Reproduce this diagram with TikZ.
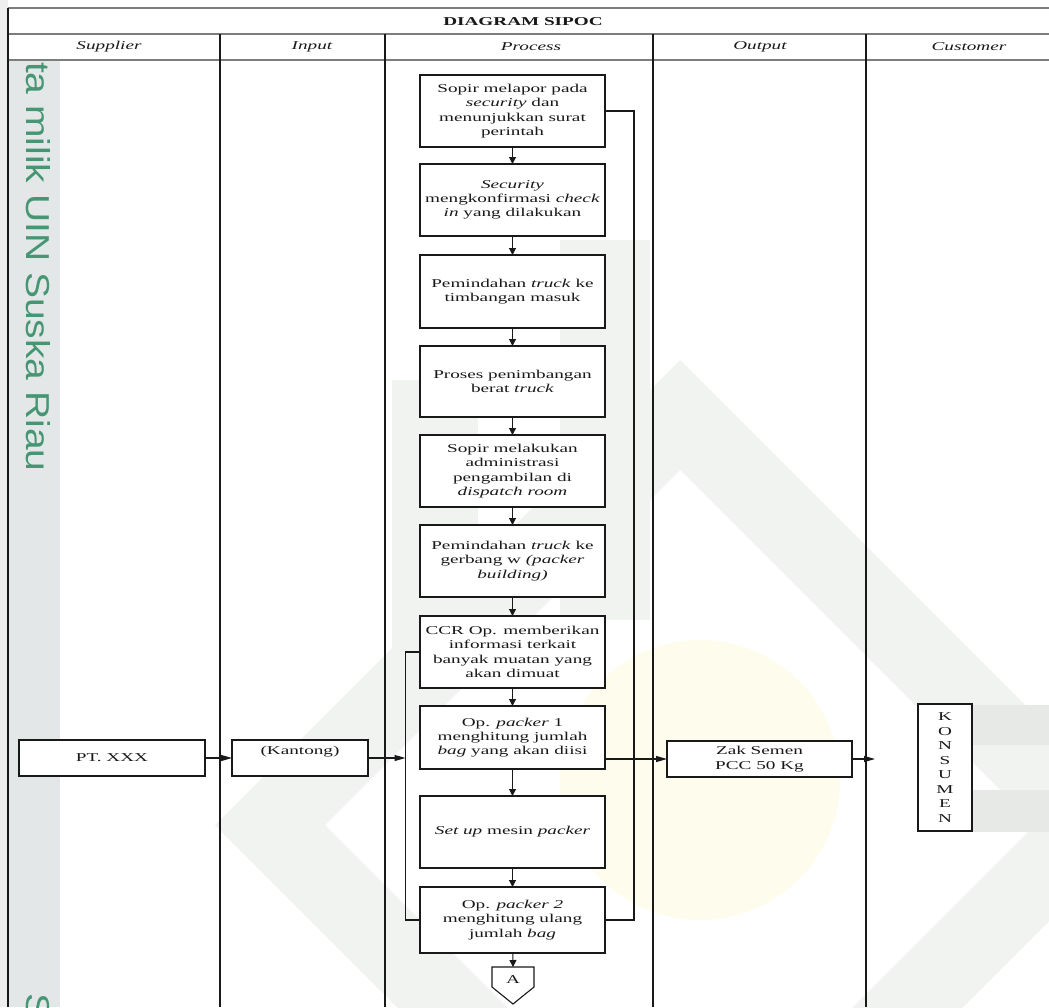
\documentclass[tikz,border=0pt]{standalone}
\usepackage{fontspec}
\setmainfont{Liberation Serif}[FakeStretch=1.6]
\setsansfont{Liberation Sans}
\usetikzlibrary{arrows.meta}
\definecolor{ink}{RGB}{25,25,25}
\definecolor{rulegray}{RGB}{125,125,125}
\definecolor{stripgray}{RGB}{228,231,231}
\definecolor{edgegray}{RGB}{238,238,238}
\definecolor{wmgreen}{RGB}{70,150,115}
\definecolor{wmgray}{RGB}{241,243,241}
\definecolor{wmbar}{RGB}{230,233,230}
\definecolor{wmcream}{RGB}{254,252,237}
\begin{document}
\begin{tikzpicture}[x=1pt,y=-1pt,
  every node/.style={inner sep=0pt,outer sep=0pt},
  txt/.style={font=\fontsize{12}{14.3}\selectfont,align=center,text=ink},
  proc/.style={txt,draw=ink,line width=1.1pt,fill=white,minimum width=185pt},
  side/.style={txt,draw=ink,line width=1.1pt,fill=white,minimum height=36pt},
  head/.style={font=\itshape\fontsize{12}{13}\selectfont,text=ink},
  link/.style={draw=ink,line width=1.1pt},
  varr/.style={link,-{Triangle[length=7pt,width=7pt]}},
  harr/.style={link,-{Triangle[length=11pt,width=6pt]}},
  stamptxt/.style={rotate=-90,anchor=west,font=\sffamily\fontsize{39}{39}\selectfont,text=wmgreen}]
\path[use as bounding box] (0,0) rectangle (1049,1007);
\fill[white] (0,0) rectangle (1049,1007);

% faint emblem in the page background
\fill[wmcream] (700,780) circle[radius=140];
\fill[wmgray,even odd rule]
  (215,825) -- (680,360) -- (1145,825) -- (680,1290) -- cycle
  (325,825) -- (680,470) -- (1035,825) -- (680,1180) -- cycle;
\fill[wmgray] (392,380) rectangle (478,660);
\fill[wmgray] (560,240) rectangle (650,620);
\fill[wmbar] (973,705) rectangle (1049,745);
\fill[wmbar] (973,790) rectangle (1049,832);

% grey margin strip with the vertical library stamp
\fill[edgegray] (0,0) rectangle (8,1007);
\fill[stripgray] (8,60) rectangle (60,1007);
\begin{scope}
  \clip (8,60) rectangle (60,1007);
  \node[stamptxt] (stamp) at (38,62) {\scalebox{1}[0.85]{ta milik UIN Suska Riau}};
  \node[stamptxt] (stamp2) at (38,993) {\scalebox{1}[0.85]{S}};
\end{scope}

% table frame
\draw[rulegray,line width=1.6pt] (8,8) -- (1049,8) (8,34) -- (1049,34) (8,60) -- (1049,60);
\draw[ink,line width=1.2pt] (8,8) -- (8,1007);
\foreach \cx in {220,385,653,866} \draw[ink,line width=1.2pt] (\cx,34) -- (\cx,1007);

\node[font=\bfseries\fontsize{12}{13}\selectfont,text=ink] (title) at (523,21.5) {DIAGRAM SIPOC};
\node[head] (hS) at (109,47) {Supplier};
\node[head] (hI) at (312,47) {Input};
\node[head] (hP) at (531,47) {Process};
\node[head] (hO) at (760,47) {Output};
\node[head] (hC) at (969,47) {Customer};

% process steps
\node[proc,minimum height=72pt] (p1) at (512.5,111) {Sopir melapor pada\\\textit{security} dan\\menunjukkan surat\\perintah};
\node[proc,minimum height=72pt] (p2) at (512.5,200) {\textit{Security}\\mengkonfirmasi \textit{check}\\\textit{in} yang dilakukan};
\node[proc,minimum height=73pt] (p3) at (512.5,291.5) {Pemindahan \textit{truck} ke\\timbangan masuk};
\node[proc,minimum height=71pt] (p4) at (512.5,381.5) {Proses penimbangan\\berat \textit{truck}};
\node[proc,minimum height=72pt] (p5) at (512.5,471) {Sopir melakukan\\administrasi\\pengambilan di\\\textit{dispatch room}};
\node[proc,minimum height=72pt] (p6) at (512.5,561) {Pemindahan \textit{truck} ke\\gerbang w \textit{(packer}\\\textit{building)}};
\node[proc,minimum height=72pt] (p7) at (512.5,652) {CCR Op. memberikan\\informasi terkait\\banyak muatan yang\\akan dimuat};
\node[proc,minimum height=63pt] (p8) at (512.5,737.5) {Op. \textit{packer} 1\\menghitung jumlah\\\textit{bag} yang akan diisi};
\node[proc,minimum height=72pt] (p9) at (512.5,832) {\textit{Set up} mesin \textit{packer}};
\node[proc,minimum height=66pt] (p10) at (512.5,920) {Op. \textit{packer 2}\\menghitung ulang\\jumlah \textit{bag}};

\foreach \a/\b in {p1/p2,p2/p3,p3/p4,p4/p5,p5/p6,p6/p7,p7/p8,p8/p9,p9/p10}
  \draw[varr] (\a) -- (\b);

% off-page connector
\coordinate (Atop) at (513,967);
\draw[link,fill=white] (Atop) -- (534,967) -- (534,987) -- (513,1004) -- (492,987) -- (492,967) -- cycle;
\node[txt] (Alabel) at (513,980) {A};
\draw[varr] (p10) -- (Atop);

% feedback lines
\coordinate (rj) at (634,111);
\coordinate (lj) at (405.5,652);
\draw[link] (p1.east) -- (rj) |- (p10.east);
\draw[link] (p7.west) -- (lj) |- (p10.west);

% supplier, input, output, customer
\node[side,minimum width=186pt] (pt) at (112,758) {PT. XXX};
\node[side,minimum width=136pt] (kan) at (300,758) {};
\node[txt] (kantxt) at (300,752) {(Kantong)};
\node[side,minimum width=185pt] (zak) at (759.5,759) {Zak Semen\\PCC 50 Kg};
\node[txt,draw=ink,line width=1.1pt,fill=white,minimum width=54pt,minimum height=127pt,
      font=\fontsize{12}{14.5}\selectfont] (kons) at (945,767.5) {K\\O\\N\\S\\U\\M\\E\\N};
\coordinate (outend) at (875,759);

\draw[harr] (pt) -- (kan);
\draw[harr] (kan.east) -- (kan.east -| lj);
\draw[harr] (p8.east |- zak.west) -- (zak.west);
\draw[harr] (zak.east) -- (outend);
\end{tikzpicture}
\end{document}
